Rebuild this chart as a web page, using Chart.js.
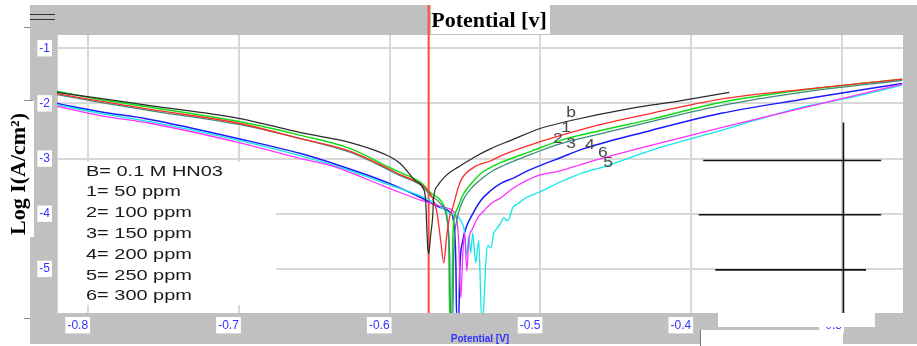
<!DOCTYPE html>
<html><head><meta charset="utf-8">
<script src="https://cdn.jsdelivr.net/npm/chart.js@4/dist/chart.umd.min.js"></script>
<style>html,body{margin:0;padding:0;background:#fff;overflow:hidden}canvas{display:block}</style>
</head><body>
<canvas id="c" width="917" height="346"></canvas>
<script>
// ---- axis ranges & ticks ----
const xMin = -0.8206, xMax = -0.2595;
const yMin = -5.8, yMax = -0.76;
const xTickStep = 0.1, yTickStep = 1;

// ---- series (Potential [V], Log I) ----
const potB = [-0.821,-0.792,-0.759,-0.700,-0.659,-0.626,-0.601,-0.593,-0.583,-0.578,-0.5761,-0.5754,-0.5748,-0.5741,-0.5728,-0.5714,-0.5708,-0.5681,-0.5641,-0.5595,-0.5548,-0.5442,-0.5329,-0.5196,-0.4997,-0.4797,-0.4399,-0.4066,-0.3747];
const logB = [-1.80,-1.91,-2.04,-2.27,-2.53,-2.71,-2.95,-3.09,-3.40,-3.53,-3.76,-4.22,-4.58,-4.73,-4.40,-4.04,-3.71,-3.49,-3.35,-3.24,-3.16,-2.98,-2.82,-2.67,-2.45,-2.31,-2.09,-1.95,-1.80];

const pot1 = [-0.821,-0.792,-0.759,-0.700,-0.659,-0.626,-0.601,-0.593,-0.579,-0.5728,-0.5688,-0.5661,-0.5641,-0.5621,-0.5601,-0.5581,-0.5555,-0.5528,-0.5442,-0.5329,-0.5262,-0.5063,-0.4864,-0.4598,-0.4266,-0.3821,-0.3269,-0.26];
const log1 = [-1.82,-1.96,-2.11,-2.36,-2.64,-2.87,-3.18,-3.29,-3.47,-3.65,-3.95,-4.49,-4.89,-4.40,-4.04,-3.89,-3.62,-3.40,-3.16,-3.04,-2.95,-2.75,-2.58,-2.38,-2.18,-1.93,-1.75,-1.56];

const pot2 = [-0.821,-0.792,-0.759,-0.700,-0.659,-0.626,-0.601,-0.593,-0.579,-0.5728,-0.5661,-0.5628,-0.5608,-0.5601,-0.5588,-0.5581,-0.5568,-0.5548,-0.5515,-0.5482,-0.5395,-0.5329,-0.5262,-0.5063,-0.4864,-0.4598,-0.4266,-0.3801,-0.3269,-0.26];
const log2 = [-1.78,-1.93,-2.07,-2.33,-2.58,-2.82,-3.15,-3.25,-3.44,-3.62,-3.76,-3.95,-4.49,-5.95,-5.95,-4.49,-4.04,-3.89,-3.67,-3.53,-3.27,-3.16,-3.07,-2.87,-2.67,-2.49,-2.29,-1.98,-1.76,-1.56];

const pot3 = [-0.821,-0.792,-0.759,-0.700,-0.659,-0.626,-0.601,-0.593,-0.579,-0.5728,-0.5661,-0.5621,-0.5601,-0.5595,-0.5581,-0.5575,-0.5555,-0.5528,-0.5495,-0.5462,-0.5382,-0.5316,-0.5249,-0.5050,-0.4864,-0.4598,-0.4266,-0.3801,-0.3269,-0.26];
const log3 = [-1.84,-1.98,-2.13,-2.38,-2.64,-2.89,-3.20,-3.31,-3.49,-3.67,-3.82,-4.09,-4.85,-5.95,-5.95,-4.76,-4.13,-3.85,-3.67,-3.55,-3.35,-3.22,-3.13,-2.91,-2.73,-2.55,-2.33,-2.04,-1.80,-1.58];

const pot4 = [-0.821,-0.792,-0.759,-0.700,-0.659,-0.633,-0.601,-0.579,-0.5661,-0.5595,-0.5575,-0.5561,-0.5555,-0.5542,-0.5535,-0.5515,-0.5488,-0.5462,-0.5395,-0.5329,-0.5262,-0.5176,-0.5083,-0.4864,-0.4711,-0.4266,-0.3801,-0.3269,-0.26];
const log4 = [-2.00,-2.15,-2.29,-2.64,-2.91,-3.13,-3.44,-3.71,-3.89,-3.98,-4.16,-4.85,-5.95,-5.95,-5.04,-4.49,-4.22,-4.07,-3.76,-3.58,-3.45,-3.35,-3.22,-2.98,-2.82,-2.49,-2.18,-1.93,-1.64];

const pot5 = [-0.821,-0.792,-0.759,-0.700,-0.659,-0.633,-0.601,-0.5728,-0.5595,-0.5508,-0.5488,-0.5475,-0.5462,-0.5449,-0.5429,-0.5409,-0.5389,-0.5375,-0.5362,-0.5349,-0.5329,-0.5309,-0.5289,-0.5262,-0.5243,-0.5216,-0.5183,-0.5150,-0.5096,-0.5017,-0.4864,-0.4711,-0.4578,-0.4266,-0.3801,-0.3269,-0.2937,-0.26];
const log5 = [-2.02,-2.18,-2.33,-2.67,-2.95,-3.16,-3.47,-3.76,-4.00,-4.25,-4.76,-4.40,-4.71,-4.35,-4.89,-4.49,-5.95,-5.67,-4.89,-4.58,-4.62,-4.35,-4.27,-4.16,-4.07,-4.13,-3.89,-3.82,-3.71,-3.62,-3.42,-3.25,-3.15,-2.85,-2.49,-2.07,-1.89,-1.67];

const pot6 = [-0.821,-0.792,-0.759,-0.700,-0.659,-0.639,-0.601,-0.579,-0.5628,-0.5561,-0.5542,-0.5528,-0.5515,-0.5502,-0.5488,-0.5475,-0.5449,-0.5415,-0.5375,-0.5329,-0.5262,-0.5176,-0.5017,-0.4864,-0.4711,-0.4266,-0.3801,-0.3269,-0.26];
const log6 = [-2.05,-2.22,-2.36,-2.71,-3.00,-3.13,-3.53,-3.76,-3.89,-4.04,-4.49,-5.53,-4.76,-4.35,-5.04,-4.49,-4.27,-4.07,-3.95,-3.82,-3.71,-3.53,-3.31,-3.22,-3.09,-2.76,-2.44,-2.09,-1.65];

// red vertical marker line
const markerPot = [-0.5741, -0.5741];
const markerLog = [-0.22, -5.8];

// stray black cross lines at right of the original figure
const crossPot = [[-0.299,-0.299],[-0.392,-0.274],[-0.395,-0.274],[-0.384,-0.284]];
const crossLog = [[-2.345,-5.8],[-3.036,-3.036],[-4.018,-4.018],[-5.018,-5.018]];

// curve labels
const curveLabelText = ['b','1','2','3','4','6','5'];
const curveLabelPot = [-0.4797,-0.4830,-0.4884,-0.4797,-0.4671,-0.4585,-0.4551];
const curveLabelLog = [-2.18,-2.45,-2.64,-2.73,-2.76,-2.91,-3.09];

// legend text
const legendLines = ['B= 0.1 M HN03','1= 50 ppm','2= 100 ppm','3= 150 ppm','4= 200 ppm','5= 250 ppm','6= 300 ppm'];

const titleText = 'Potential [v]';
const yTitle = 'Log I(A/cm\u00B2)';
const xTitle = 'Potential [V]';

// ---- build ----
const pts = (p, l) => p.map((x, i) => ({x, y: l[i]}));
const line = (p, l, color, w, extra) => Object.assign({
  data: pts(p, l), showLine: true, borderColor: color, borderWidth: w,
  pointRadius: 0, fill: false, tension: 0
}, extra || {});
const smooth = { cubicInterpolationMode: 'monotone' };

const datasets = [
  line(potB, logB, '#2b2b2b', 1.2, smooth),
  line(pot1, log1, '#ff2a2a', 1.3, smooth),
  line(pot3, log3, '#3f8a7c', 1.3, smooth),
  line(pot2, log2, '#10dd10', 1.5, smooth),
  line(pot6, log6, '#ff30ff', 1.3, smooth),
  line(pot5, log5, '#10e8e8', 1.3, smooth),
  line(pot4, log4, '#1a1aff', 1.5, smooth),
  line(markerPot, markerLog, '#ff4a3a', 2, {clip: false}),
];
crossPot.forEach((p, i) => datasets.push(line(p, crossLog[i], '#111', 1.6)));

const deco = {
  id: 'deco',
  beforeDraw(chart) {
    const ctx = chart.ctx, a = chart.chartArea;
    ctx.save();
    ctx.fillStyle = '#fff'; ctx.fillRect(0, 0, 917, 346);
    ctx.fillStyle = '#c0c0c0'; ctx.fillRect(30, 5, 887, 339);
    ctx.fillStyle = '#fff'; ctx.fillRect(a.left, a.top, a.right - a.left, a.bottom - a.top);
    ctx.fillRect(0, 100, 34, 137);
    ctx.fillRect(431, 5, 119, 29);
    ctx.strokeStyle = '#333'; ctx.lineWidth = 1.2;
    ctx.beginPath();
    ctx.moveTo(30, 14.5); ctx.lineTo(55, 14.5);
    ctx.moveTo(30, 19.5); ctx.lineTo(55, 19.5);
    ctx.stroke();
    ctx.strokeStyle = '#888'; ctx.lineWidth = 1;
    ctx.beginPath();
    ctx.moveTo(24, 27.5); ctx.lineTo(30, 27.5);
    ctx.moveTo(24, 100.5); ctx.lineTo(33, 100.5);
    ctx.moveTo(24, 318.5); ctx.lineTo(30, 318.5);
    ctx.stroke();
    ctx.restore();
  },
  beforeDatasetsDraw(chart) {
    const ctx = chart.ctx, a = chart.chartArea;
    ctx.save();
    ctx.fillStyle = '#fff';
    ctx.fillRect(a.left + 1, 162, 218, 143);
    ctx.restore();
  },
  afterDatasetsDraw(chart) {
    const ctx = chart.ctx, xs = chart.scales.x, ys = chart.scales.y;
    ctx.save();
    ctx.fillStyle = '#1a1a1a';
    ctx.font = '15px "Liberation Sans", Arial, sans-serif';
    ctx.textBaseline = 'middle'; ctx.textAlign = 'left';
    legendLines.forEach((t, i) => {
      ctx.save();
      ctx.translate(86, 171.5 + i * 20.8);
      ctx.scale(1.33, 1);
      ctx.fillText(t, 0, 0);
      ctx.restore();
    });
    ctx.fillStyle = '#4a4a4a';
    ctx.font = '14px "Liberation Sans", Arial, sans-serif';
    ctx.textAlign = 'center';
    curveLabelText.forEach((t, i) => {
      ctx.save();
      ctx.translate(xs.getPixelForValue(curveLabelPot[i]), ys.getPixelForValue(curveLabelLog[i]));
      ctx.scale(1.25, 1);
      ctx.fillText(t, 0, 0);
      ctx.restore();
    });
    ctx.restore();
  },
  afterDraw(chart) {
    const ctx = chart.ctx;
    ctx.save();
    ctx.fillStyle = '#000';
    ctx.font = 'bold 22px "Liberation Serif", "Times New Roman", serif';
    ctx.textAlign = 'center'; ctx.textBaseline = 'alphabetic';
    ctx.fillText(titleText, 489, 27);
    ctx.fillStyle = '#fff';
    ctx.fillRect(718, 313, 157, 14);
    ctx.fillRect(700, 330, 143, 16);
    ctx.strokeStyle = '#777'; ctx.lineWidth = 1;
    ctx.beginPath(); ctx.moveTo(700.5, 330); ctx.lineTo(700.5, 346); ctx.stroke();
    ctx.restore();
  }
};

new Chart(document.getElementById('c'), {
  type: 'scatter',
  data: { datasets },
  options: {
    animation: false, responsive: false, devicePixelRatio: 1,
    layout: { padding: { left: 0, right: 14, top: 35, bottom: 0 } },
    plugins: { legend: { display: false }, tooltip: { enabled: false } },
    scales: {
      x: {
        type: 'linear', position: 'bottom', min: xMin, max: xMax,
        afterFit(s) { s.height = 33; },
        ticks: {
          stepSize: xTickStep, includeBounds: false, autoSkip: false, maxRotation: 0, minRotation: 0,
          align: 'end', padding: 5, color: '#3030ff',
          font: { family: '"Liberation Sans", Arial, sans-serif', size: 12 },
          showLabelBackdrop: true, backdropColor: '#ffffff', backdropPadding: { top: 1, bottom: 1, left: 2, right: 2 },
          callback: v => Number(v).toFixed(1)
        },
        grid: { color: '#d8d8d8', lineWidth: 2, drawTicks: false },
        border: { display: false },
        title: { display: true, text: xTitle, color: '#3030ff',
          font: { family: '"Liberation Sans", Arial, sans-serif', size: 10, weight: 'bold' },
          padding: { top: 0, bottom: 1 } }
      },
      y: {
        type: 'linear', min: yMin, max: yMax,
        afterFit(s) { s.width = 57; },
        ticks: {
          stepSize: yTickStep, includeBounds: false, autoSkip: false, padding: 7, color: '#3030ff',
          font: { family: '"Liberation Sans", Arial, sans-serif', size: 12 },
          showLabelBackdrop: true, backdropColor: '#ffffff', backdropPadding: { top: 1, bottom: 1, left: 2, right: 2 },
          callback: v => Number(v).toFixed(0)
        },
        grid: { color: '#d8d8d8', lineWidth: 2, drawTicks: false },
        border: { display: true, color: '#d0d0d0', width: 1 },
        title: { display: true, text: yTitle, color: '#000',
          font: { family: '"Liberation Serif", "Times New Roman", serif', size: 22, weight: 'bold' },
          padding: { top: 6, bottom: 0 } }
      }
    }
  },
  plugins: [deco]
});
</script>
</body></html>
